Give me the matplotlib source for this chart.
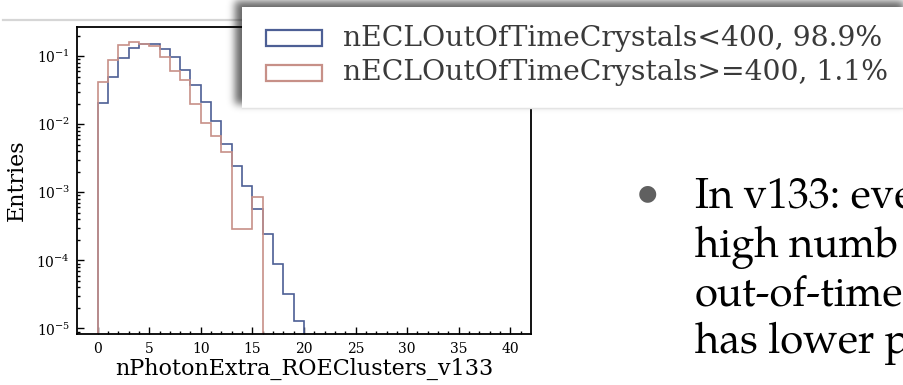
import matplotlib
matplotlib.use("Agg")
import matplotlib.pyplot as plt
import numpy as np
from matplotlib import font_manager
from matplotlib.patches import Rectangle
from matplotlib.lines import Line2D

# ---------------- data ----------------
bin_edges = list(range(0, 41))          # 40 bins of width 1, 0..40
blue_vals = [0.0204, 0.050, 0.093, 0.132, 0.153, 0.153, 0.126, 0.096, 0.062, 0.038,
             0.0215, 0.011, 0.0051, 0.0024, 0.00124, 0.00056, 0.000246, 0.000089,
             0.0000318, 0.0000130] + [0.0] * 20
red_vals = [0.042, 0.087, 0.145, 0.162, 0.153, 0.140, 0.098, 0.060, 0.045, 0.0197,
            0.0104, 0.0067, 0.0039, 0.00029, 0.00029, 0.00085] + [0.0] * 24
labels = ["nECLOutOfTimeCrystals<400, 98.9%", "nECLOutOfTimeCrystals>=400, 1.1%"]
xticks = [0, 5, 10, 15, 20, 25, 30, 35, 40]
xlabel = "nPhotonExtra_ROEClusters_v133"
ylabel = "Entries"
bullet_lines = ["In v133: eve", "high numb", "out-of-time", "has lower p"]

BLUE = "#4d5f95"
RED = "#c79088"

W, H = 904, 385
plt.rcParams["font.family"] = ["DejaVu Serif"]
plt.rcParams["mathtext.fontset"] = "dejavuserif"

avail = {f.name for f in font_manager.fontManager.ttflist}
body_font = "Liberation Serif"
for cand in ["TeX Gyre Pagella", "P052", "URW Palladio L", "Palatino Linotype",
             "Book Antiqua", "Palatino"]:
    if cand in avail:
        body_font = cand
        break

fig = plt.figure(figsize=(W / 100, H / 100), dpi=100)
fig.patch.set_facecolor("white")

def fx(px):
    return px / W

def fy(py):  # py measured from top
    return 1 - py / H

# ---------------- axes ----------------
ax_l, ax_r, ax_t, ax_b = 77, 531, 27, 334
ax = fig.add_axes([fx(ax_l), fy(ax_b), fx(ax_r - ax_l), (ax_b - ax_t) / H])
centers = [0.5 * (bin_edges[i] + bin_edges[i + 1]) for i in range(len(bin_edges) - 1)]
ax.set_yscale("log")
ax.hist(centers, bins=bin_edges, weights=blue_vals, histtype="step", color=BLUE, lw=1.2)
ax.hist(centers, bins=bin_edges, weights=red_vals, histtype="step", color=RED, lw=1.2)
ax.set_xlim(-2, 42)
ax.set_ylim(8.3e-6, 0.268)
ax.set_xticks(xticks)
ax.set_xticks(range(0, 42), minor=True)
ax.tick_params(which="both", direction="in", top=False, right=False, labelsize=10, width=1.0)
ax.tick_params(which="major", length=5)
ax.tick_params(which="minor", length=2.5)
ax.tick_params(axis="x", which="major", pad=6)
ax.tick_params(axis="y", which="major", pad=5)
for s in ax.spines.values():
    s.set_linewidth(1.3)
    s.set_color("black")
ax.set_xlabel(xlabel, fontsize=16, labelpad=1)
ax.set_ylabel(ylabel, fontsize=16, labelpad=6)

# slide separator line (top-left)
fig.add_artist(Line2D([fx(3), fx(300)], [fy(20), fy(20)], color="#d6d6d6", lw=1.6,
                      transform=fig.transFigure, zorder=3))

# ---------------- legend panel with shadow ----------------
box_l, box_t, box_b = 242, 7, 108
sh = np.zeros((H, W))
sh[1:104, 235:W] = 1.0
k = np.exp(-0.5 * (np.arange(-12, 13) / 4.0) ** 2)
k /= k.sum()
sh = np.apply_along_axis(lambda r: np.convolve(r, k, mode="same"), 1, sh)
sh = np.apply_along_axis(lambda c: np.convolve(c, k, mode="same"), 0, sh)
rgba = np.zeros((H, W, 4))
rgba[..., 3] = sh * 0.6
fig.figimage(rgba, 0, 0, origin="upper", zorder=4)

fig.add_artist(Rectangle((fx(box_l), fy(box_b)), fx(W - box_l + 5), (box_b - box_t) / H,
                         transform=fig.transFigure, facecolor="white", edgecolor="none", zorder=5))
fig.add_artist(Line2D([fx(box_l), 1], [fy(box_b), fy(box_b)], color="#e4e4e4", lw=1.0,
                      transform=fig.transFigure, zorder=5))

rows = [38, 73]
colors = [BLUE, RED]
renderer = fig.canvas.get_renderer()
leg_fs = 18
t = fig.text(0, 0, labels[1], fontsize=leg_fs)
w = t.get_window_extent(renderer).width
t.remove()
leg_fs = leg_fs * (888 - 343) / w
for r, c, lab in zip(rows, colors, labels):
    fig.add_artist(Rectangle((fx(266), fy(r + 8)), fx(56), 16 / H, transform=fig.transFigure,
                             facecolor="white", edgecolor=c, lw=1.6, zorder=6))
    fig.text(fx(343), fy(r), lab, fontsize=leg_fs, color="#3a3a3a", va="center", ha="left", zorder=6)

# ---------------- bullet text ----------------
baselines = [208, 257, 305, 353]
for line, yb in zip(bullet_lines, baselines):
    fig.text(fx(695), fy(yb), line, fontsize=30, family=[body_font, "DejaVu Serif"],
             va="baseline", ha="left", color="black")
fig.text(fx(647), fy(193), "\u25CF", fontsize=16, color="#606060", va="center", ha="center",
         family=["DejaVu Sans"])

fig.savefig("out.png", dpi=100)
